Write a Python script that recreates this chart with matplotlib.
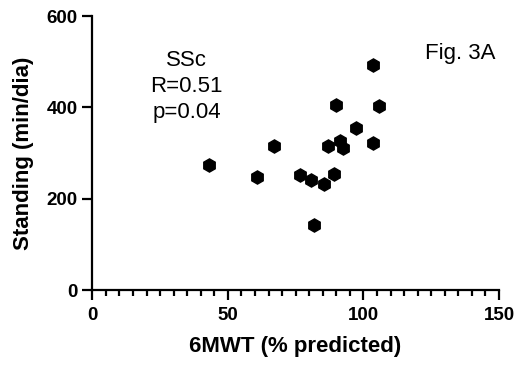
import matplotlib.pyplot as plt
from matplotlib.ticker import MultipleLocator

plt.rcParams['font.family'] = ['Liberation Sans', 'DejaVu Sans']

# 6MWT (% predicted) vs standing time (min/dia)
walk_pct = [43.0, 60.6, 67.1, 76.6, 80.5, 81.8, 85.3, 87.0, 89.1, 89.9,
            91.4, 92.4, 97.2, 103.5, 103.7, 105.7]
standing = [274, 247, 315, 251, 240, 143, 233, 315, 255, 405,
            326, 312, 355, 492, 322, 402]

x_ticks = [0, 50, 100, 150]
y_ticks = [0, 200, 400, 600]

fig = plt.figure(figsize=(5.2, 3.69), dpi=100)
ax = fig.add_axes([0.1775, 0.214, 0.782, 0.7426])

ax.plot(walk_pct, standing, linestyle='none', marker='h', markersize=9.5,
        color='black', clip_on=False)

ax.set_xlim(0, 150)
ax.set_ylim(0, 600)
ax.set_xticks(x_ticks)
ax.set_yticks(y_ticks)
ax.xaxis.set_minor_locator(MultipleLocator(5))

for s in ['top', 'right']:
    ax.spines[s].set_visible(False)
for s in ['left', 'bottom']:
    ax.spines[s].set_linewidth(1.6)

ax.tick_params(which='major', length=7, width=1.6, labelsize=13.5)
ax.tick_params(axis='x', which='major', pad=5)
ax.tick_params(which='minor', length=4, width=1.6)
ax.tick_params(axis='y', which='minor', left=False)
for lab in ax.get_xticklabels() + ax.get_yticklabels():
    lab.set_fontweight('bold')

ax.set_xlabel('6MWT (% predicted)', fontsize=16, fontweight='bold', labelpad=9)
ax.set_ylabel('Standing (min/dia)', fontsize=16, fontweight='bold', labelpad=9)

ax.text(0.232, 0.743, 'SSc\nR=0.51\np=0.04', transform=ax.transAxes,
        ha='center', va='center', fontsize=16, linespacing=1.3)
ax.text(0.906, 0.865, 'Fig. 3A', transform=ax.transAxes,
        ha='center', va='center', fontsize=16)

fig.savefig('out.png', dpi=100)
